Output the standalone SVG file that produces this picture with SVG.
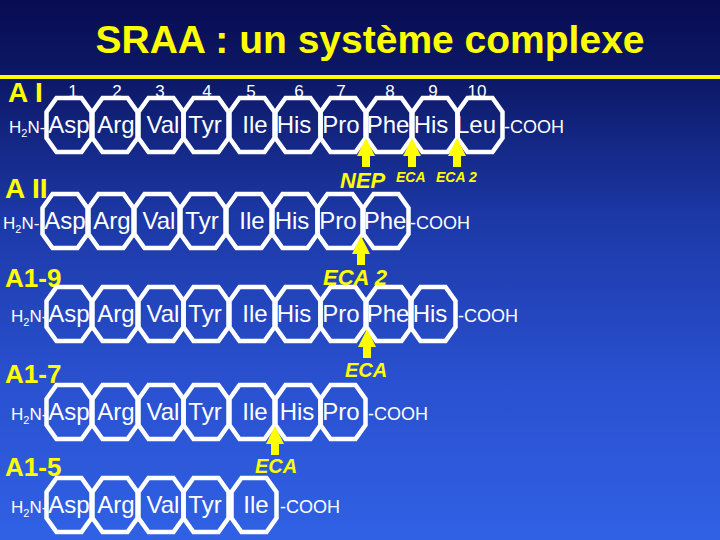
<svg xmlns="http://www.w3.org/2000/svg" xmlns:xlink="http://www.w3.org/1999/xlink" width="720" height="540" viewBox="0 0 720 540">
<defs>
<linearGradient id="bg" x1="0" y1="0" x2="0" y2="1">
<stop offset="0" stop-color="#080c52"/>
<stop offset="0.14" stop-color="#0c1866"/>
<stop offset="0.4" stop-color="#1c38a6"/>
<stop offset="0.7" stop-color="#2950cf"/>
<stop offset="1" stop-color="#3061e4"/>
</linearGradient>
<polygon id="oct" points="-12.5,-27 12.5,-27 22.5,-13 22.5,13 12.5,27 -12.5,27 -22.5,13 -22.5,-13"/>
<polygon id="arr" points="0,0 9,18 4,18 4,29 -4,29 -4,18 -9,18"/>
<style>
.o{fill:none;stroke:#fff;stroke-width:4.5;stroke-linejoin:miter}
.r{font-family:"Liberation Sans",Arial,sans-serif;font-size:24px;fill:#fff;text-anchor:middle}
.h{font-family:"Liberation Sans",Arial,sans-serif;font-size:17px;fill:#fff}
.c{font-family:"Liberation Sans",Arial,sans-serif;font-size:18px;fill:#fff}
.s{font-size:11px}
.n{font-family:"Liberation Sans",Arial,sans-serif;font-size:17px;fill:#fff;text-anchor:middle}
.lab{font-family:"Liberation Sans",Arial,sans-serif;font-weight:bold;fill:#ffff00}
.enz{font-family:"Liberation Sans",Arial,sans-serif;font-weight:bold;font-style:italic;fill:#ffff00}
.a{fill:#ffff00}
</style>
</defs>
<rect width="720" height="540" fill="url(#bg)"/>
<rect x="0" y="75" width="720" height="4" fill="#ffff00"/>
<text x="370" y="53" class="lab" font-size="39" text-anchor="middle">SRAA : un système complexe</text>

<!-- Row labels -->
<text x="8" y="102" class="lab" font-size="28">A I</text>
<text x="5" y="198" class="lab" font-size="28">A II</text>
<text x="5" y="287" class="lab" font-size="26">A1-9</text>
<text x="5" y="383" class="lab" font-size="26">A1-7</text>
<text x="5" y="476" class="lab" font-size="26">A1-5</text>

<!-- Position numbers -->
<g id="numbers">
<text x="73" y="97" class="n">1</text>
<text x="117" y="97" class="n">2</text>
<text x="160" y="97" class="n">3</text>
<text x="207" y="97" class="n">4</text>
<text x="251" y="97" class="n">5</text>
<text x="299" y="97" class="n">6</text>
<text x="341" y="97" class="n">7</text>
<text x="390" y="97" class="n">8</text>
<text x="433" y="97" class="n">9</text>
<text x="477" y="97" class="n">10</text>
</g>

<!-- Row 1 : A I -->
<g id="row1">
<text x="9" y="133" class="h">H<tspan class="s" dy="4">2</tspan><tspan dy="-4">N-</tspan></text>
<g id="r1-asp"><use xlink:href="#oct" class="o" x="69" y="125"/><text x="69" y="133" class="r">Asp</text></g>
<g id="r1-arg"><use xlink:href="#oct" class="o" x="115" y="125"/><text x="116" y="133" class="r">Arg</text></g>
<g id="r1-val"><use xlink:href="#oct" class="o" x="161" y="125"/><text x="163" y="133" class="r">Val</text></g>
<g id="r1-tyr"><use xlink:href="#oct" class="o" x="206" y="125"/><text x="205" y="133" class="r">Tyr</text></g>
<g id="r1-ile"><use xlink:href="#oct" class="o" x="252" y="125"/><text x="255" y="133" class="r">Ile</text></g>
<g id="r1-his"><use xlink:href="#oct" class="o" x="298" y="125"/><text x="294" y="133" class="r">His</text></g>
<g id="r1-pro"><use xlink:href="#oct" class="o" x="343" y="125"/><text x="341" y="133" class="r">Pro</text></g>
<g id="r1-phe"><use xlink:href="#oct" class="o" x="389" y="125"/><text x="388" y="133" class="r">Phe</text></g>
<g id="r1-his2"><use xlink:href="#oct" class="o" x="435" y="125"/><text x="431" y="133" class="r">His</text></g>
<g id="r1-leu"><use xlink:href="#oct" class="o" x="480" y="125"/><text x="476" y="133" class="r">Leu</text></g>
<text x="504" y="133" class="c">-COOH</text>
</g>

<!-- Row 2 : A II -->
<g id="row2">
<text x="3" y="229" class="h">H<tspan class="s" dy="4">2</tspan><tspan dy="-4">N-</tspan></text>
<g id="r2-asp"><use xlink:href="#oct" class="o" x="65" y="221"/><text x="65" y="229" class="r">Asp</text></g>
<g id="r2-arg"><use xlink:href="#oct" class="o" x="111" y="221"/><text x="112" y="229" class="r">Arg</text></g>
<g id="r2-val"><use xlink:href="#oct" class="o" x="157" y="221"/><text x="159" y="229" class="r">Val</text></g>
<g id="r2-tyr"><use xlink:href="#oct" class="o" x="203" y="221"/><text x="202" y="229" class="r">Tyr</text></g>
<g id="r2-ile"><use xlink:href="#oct" class="o" x="249" y="221"/><text x="252" y="229" class="r">Ile</text></g>
<g id="r2-his"><use xlink:href="#oct" class="o" x="295" y="221"/><text x="292" y="229" class="r">His</text></g>
<g id="r2-pro"><use xlink:href="#oct" class="o" x="340" y="221"/><text x="338" y="229" class="r">Pro</text></g>
<g id="r2-phe"><use xlink:href="#oct" class="o" x="386" y="221"/><text x="385" y="229" class="r">Phe</text></g>
<text x="410" y="229" class="c">-COOH</text>
</g>

<!-- Row 3 : A1-9 -->
<g id="row3">
<text x="11" y="322" class="h">H<tspan class="s" dy="4">2</tspan><tspan dy="-4">N-</tspan></text>
<g id="r3-asp"><use xlink:href="#oct" class="o" x="69" y="314"/><text x="69" y="322" class="r">Asp</text></g>
<g id="r3-arg"><use xlink:href="#oct" class="o" x="115" y="314"/><text x="116" y="322" class="r">Arg</text></g>
<g id="r3-val"><use xlink:href="#oct" class="o" x="161" y="314"/><text x="163" y="322" class="r">Val</text></g>
<g id="r3-tyr"><use xlink:href="#oct" class="o" x="206" y="314"/><text x="205" y="322" class="r">Tyr</text></g>
<g id="r3-ile"><use xlink:href="#oct" class="o" x="252" y="314"/><text x="255" y="322" class="r">Ile</text></g>
<g id="r3-his"><use xlink:href="#oct" class="o" x="298" y="314"/><text x="294" y="322" class="r">His</text></g>
<g id="r3-pro"><use xlink:href="#oct" class="o" x="343" y="314"/><text x="341" y="322" class="r">Pro</text></g>
<g id="r3-phe"><use xlink:href="#oct" class="o" x="389" y="314"/><text x="388" y="322" class="r">Phe</text></g>
<g id="r3-his2"><use xlink:href="#oct" class="o" x="433" y="314"/><text x="430" y="322" class="r">His</text></g>
<text x="458" y="322" class="c">-COOH</text>
</g>

<!-- Row 4 : A1-7 -->
<g id="row4">
<text x="11" y="420" class="h">H<tspan class="s" dy="4">2</tspan><tspan dy="-4">N-</tspan></text>
<g id="r4-asp"><use xlink:href="#oct" class="o" x="69" y="412"/><text x="69" y="420" class="r">Asp</text></g>
<g id="r4-arg"><use xlink:href="#oct" class="o" x="115" y="412"/><text x="116" y="420" class="r">Arg</text></g>
<g id="r4-val"><use xlink:href="#oct" class="o" x="161" y="412"/><text x="163" y="420" class="r">Val</text></g>
<g id="r4-tyr"><use xlink:href="#oct" class="o" x="206" y="412"/><text x="205" y="420" class="r">Tyr</text></g>
<g id="r4-ile"><use xlink:href="#oct" class="o" x="252" y="412"/><text x="255" y="420" class="r">Ile</text></g>
<g id="r4-his"><use xlink:href="#oct" class="o" x="298" y="412"/><text x="297" y="420" class="r">His</text></g>
<g id="r4-pro"><use xlink:href="#oct" class="o" x="343" y="412"/><text x="341" y="420" class="r">Pro</text></g>
<text x="368" y="420" class="c">-COOH</text>
</g>

<!-- Row 5 : A1-5 -->
<g id="row5">
<text x="11" y="513" class="h">H<tspan class="s" dy="4">2</tspan><tspan dy="-4">N-</tspan></text>
<g id="r5-asp"><use xlink:href="#oct" class="o" x="69" y="505"/><text x="69" y="513" class="r">Asp</text></g>
<g id="r5-arg"><use xlink:href="#oct" class="o" x="115" y="505"/><text x="116" y="513" class="r">Arg</text></g>
<g id="r5-val"><use xlink:href="#oct" class="o" x="161" y="505"/><text x="163" y="513" class="r">Val</text></g>
<g id="r5-tyr"><use xlink:href="#oct" class="o" x="206" y="505"/><text x="205" y="513" class="r">Tyr</text></g>
<g id="r5-ile"><use xlink:href="#oct" class="o" x="254" y="505"/><text x="256" y="513" class="r">Ile</text></g>
<text x="280" y="513" class="c">-COOH</text>
</g>

<!-- Cleavage arrows -->
<g id="connectors">
<use xlink:href="#arr" class="a" x="366" y="138"/>
<use xlink:href="#arr" class="a" x="412" y="138"/>
<use xlink:href="#arr" class="a" x="457" y="138"/>
<use xlink:href="#arr" class="a" x="361" y="236"/>
<use xlink:href="#arr" class="a" x="367" y="329"/>
<use xlink:href="#arr" class="a" x="275" y="426"/>
</g>

<!-- Enzyme labels -->
<g id="enzymes">
<text x="340" y="188" class="enz" font-size="22">NEP</text>
<text x="396" y="182" class="enz" font-size="14">ECA</text>
<text x="436" y="182" class="enz" font-size="14">ECA 2</text>
<text x="323" y="285" class="enz" font-size="22">ECA 2</text>
<text x="345" y="377" class="enz" font-size="20">ECA</text>
<text x="255" y="473" class="enz" font-size="20">ECA</text>
</g>
</svg>
